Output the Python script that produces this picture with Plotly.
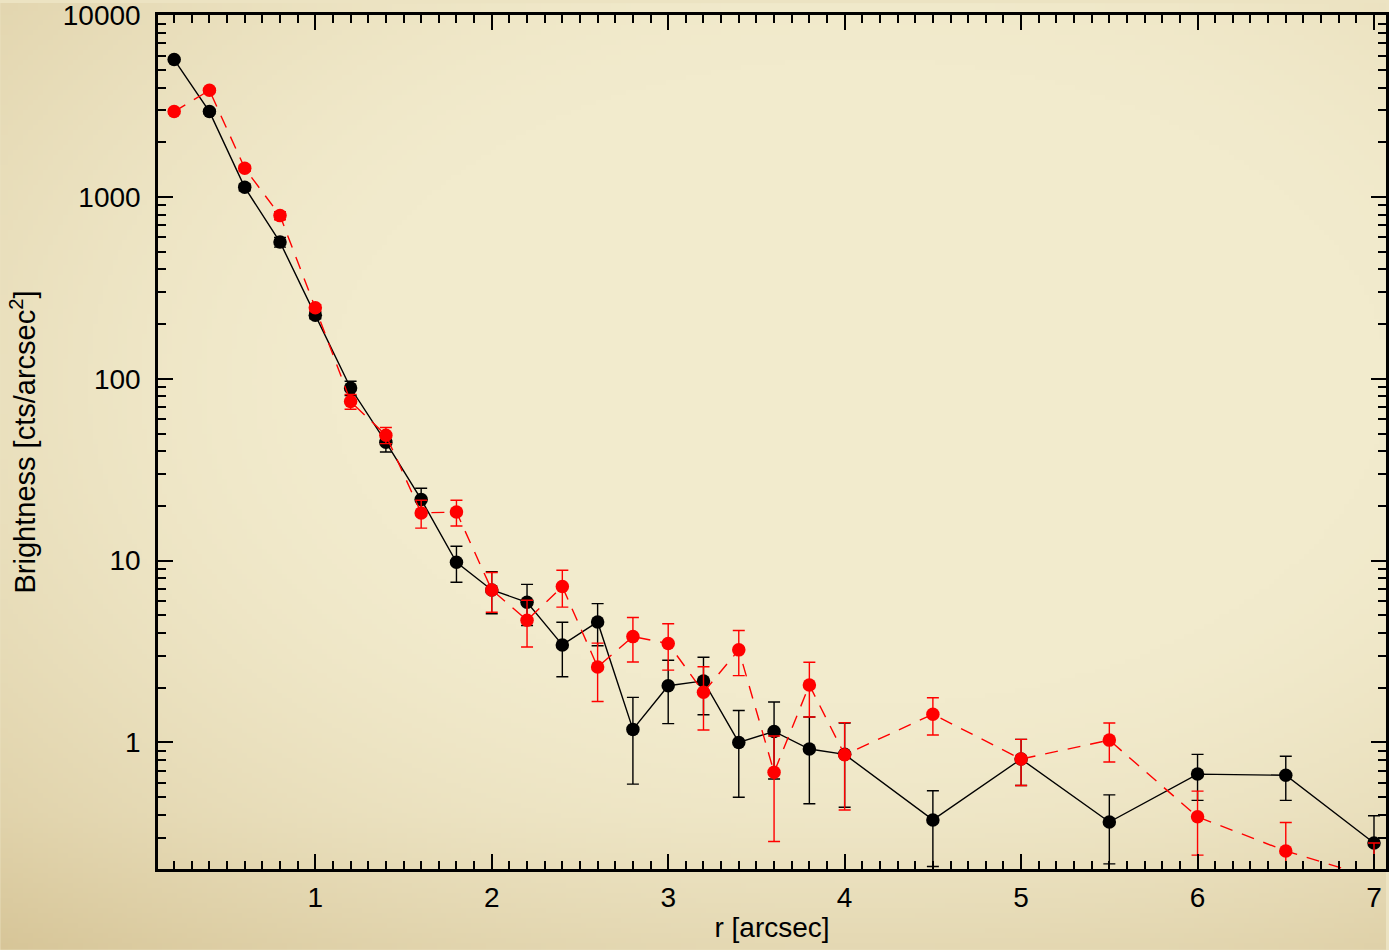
import base64
import struct
import zlib

import numpy as np
import plotly.graph_objects as go

# Radial brightness profiles: radius [arcsec], brightness [cts/arcsec^2] and 1-sigma errors
r_arcsec = [0.2, 0.4, 0.6, 0.8, 1.0, 1.2, 1.4, 1.6, 1.8, 2.0, 2.2, 2.4, 2.6, 2.8,
            3.0, 3.2, 3.4, 3.6, 3.8, 4.0, 4.5, 5.0, 5.5, 6.0, 6.5, 7.0]

black_sb = [5700, 2950, 1130, 565, 224, 89, 44.8, 21.7, 9.8, 6.9, 5.9, 3.44, 4.6, 1.18,
            2.05, 2.18, 1.0, 1.15, 0.92, 0.86, 0.375, 0.81, 0.365, 0.67, 0.66, 0.28]
black_err = [110, 80, 50, 35, 10, 8, 5.2, 3.3, 2.2, 1.8, 1.5, 1.14, 1.2, 0.59,
             0.78, 0.76, 0.5, 0.52, 0.46, 0.42, 0.167, 0.23, 0.15, 0.19, 0.18, 0.115]

red_sb = [2950, 3860, 1440, 790, 246, 75, 49, 18.3, 18.5, 6.9, 4.7, 7.2, 2.6, 3.82,
          3.5, 1.89, 3.23, 0.685, 2.07, 0.855, 1.43, 0.81, 1.03, 0.39, 0.253, 0.18]
red_err = [80, 90, 55, 40, 10, 7, 5, 3.2, 3.0, 1.7, 1.35, 1.65, 0.92, 1.05,
           1.0, 0.72, 0.9, 0.40, 0.69, 0.43, 0.33, 0.23, 0.25, 0.15, 0.11, 0.10]

x_ticks = [1, 2, 3, 4, 5, 6, 7]
y_ticks = [1, 10, 100, 1000, 10000]
y_ticktext = ["1", "10", "100", "1000", "10000"]

W, H = 1389, 950
ML, MR, MT, MB = 158, 0, 12, 81
FONT = "Liberation Sans, Arial, Helvetica, sans-serif"


def parchment_png(w=278, h=190):
    """Small warm paper-tone background with darker edges, returned as a data URI."""
    yy, xx = np.mgrid[0:h, 0:w]
    u = xx / (w - 1)
    v = yy / (h - 1)
    d = np.sqrt(((u - 0.62) / 0.80) ** 2 + ((v - 0.40) / 0.72) ** 2)
    m = np.clip((d - 0.48) / 0.75, 0, 1) ** 1.4
    m = np.clip(m + 0.12 * np.clip(v - 0.86, 0, 1) / 0.14, 0, 1)
    base = np.array([242, 235, 205], dtype=float)
    dark = np.array([214, 196, 150], dtype=float)
    img = base[None, None, :] * (1 - m[..., None]) + dark[None, None, :] * m[..., None]
    img = np.clip(img, 0, 255).astype(np.uint8)
    raw = b"".join(b"\x00" + img[i].tobytes() for i in range(h))

    def chunk(tag, data):
        c = struct.pack(">I", len(data)) + tag + data
        return c + struct.pack(">I", zlib.crc32(tag + data) & 0xFFFFFFFF)

    png = b"\x89PNG\r\n\x1a\n"
    png += chunk(b"IHDR", struct.pack(">IIBBBBB", w, h, 8, 2, 0, 0, 0))
    png += chunk(b"IDAT", zlib.compress(raw, 9))
    png += chunk(b"IEND", b"")
    return "data:image/png;base64," + base64.b64encode(png).decode()


fig = go.Figure()

fig.add_trace(go.Scatter(
    x=r_arcsec, y=black_sb, mode="lines+markers",
    line=dict(color="black", width=1.4),
    marker=dict(color="black", size=13.5),
    error_y=dict(type="data", array=black_err, visible=True,
                 color="black", thickness=1.4, width=6),
    showlegend=False,
))

fig.add_trace(go.Scatter(
    x=r_arcsec, y=red_sb, mode="lines+markers",
    line=dict(color="#ff0000", width=1.4, dash="13px,10px"),
    marker=dict(color="#ff0000", size=13.5),
    error_y=dict(type="data", array=red_err, visible=True,
                 color="#ff0000", thickness=1.4, width=6),
    showlegend=False,
))

plot_w = W - ML - MR
plot_h = H - MT - MB

fig.add_layout_image(dict(
    source=parchment_png(),
    xref="paper", yref="paper",
    x=-ML / plot_w, y=1 + MT / plot_h,
    sizex=W / plot_w, sizey=H / plot_h,
    xanchor="left", yanchor="top",
    sizing="stretch", layer="below",
))

minor_y = [m * 10 ** e for e in range(-1, 4) for m in range(2, 10)]

fig.update_layout(
    width=W, height=H,
    margin=dict(l=ML, r=MR, t=MT, b=MB, pad=0),
    paper_bgcolor="#ece3c2",
    plot_bgcolor="rgba(0,0,0,0)",
    font=dict(family=FONT, size=27, color="black"),
    xaxis=dict(
        range=[0.1085, 7.068],
        tickmode="array", tickvals=x_ticks,
        ticks="inside", ticklen=15, tickwidth=2, tickcolor="black",
        showline=True, linewidth=2.5, linecolor="black", mirror="ticks",
        showgrid=False, zeroline=False,
        ticklabelstandoff=2, ticklabeloverflow="allow",
        tickfont=dict(family=FONT, size=28),
        minor=dict(ticks="inside", dtick=0.1, tick0=0, ticklen=8,
                   tickwidth=2, tickcolor="black", showgrid=False),
        title=dict(text="r [arcsec]", font=dict(family=FONT, size=28), standoff=6),
    ),
    yaxis=dict(
        type="log",
        range=[-0.696, 4.001],
        tickmode="array", tickvals=y_ticks, ticktext=y_ticktext,
        ticks="inside", ticklen=15, tickwidth=2, tickcolor="black",
        showline=True, linewidth=2.5, linecolor="black", mirror="ticks",
        showgrid=False, zeroline=False,
        ticklabelstandoff=9, ticklabeloverflow="allow",
        tickfont=dict(family=FONT, size=28),
        minor=dict(ticks="inside", tickmode="array", tickvals=minor_y, ticklen=8,
                   tickwidth=2, tickcolor="black", showgrid=False),
        title=dict(text="Brightness [cts/arcsec<sup>2</sup>]",
                   font=dict(family=FONT, size=29), standoff=19),
    ),
)

fig.write_html("out.html")
